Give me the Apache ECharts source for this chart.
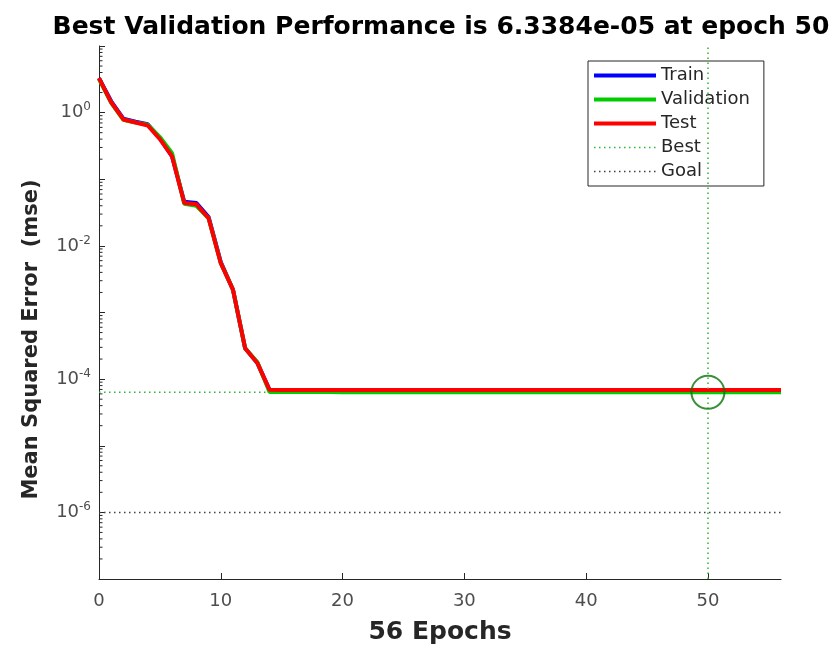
<!DOCTYPE html>
<html>
<head>
<meta charset="utf-8">
<script src="https://cdn.jsdelivr.net/npm/echarts@6/dist/echarts.min.js"></script>
<style>html,body{margin:0;padding:0;background:#fff}#c{width:836px;height:650px}</style>
</head>
<body>
<div id="c"></div>
<script>
var epochs = [0,1,2,3,4,5,6,7,8,9,10,11,12,13,14,15,16,17,18,19,20,21,22,23,24,25,26,27,28,29,30,31,32,33,34,35,36,37,38,39,40,41,42,43,44,45,46,47,48,49,50,51,52,53,54,55,56];
var trainPerf = [3.3,1.48,0.81,0.73,0.67,0.41,0.22,0.046,0.044,0.027,0.0057,0.0022,0.00029,0.000175,0.000069,0.0000688,0.0000688,0.0000687,0.0000687,0.0000687,0.0000686,0.0000686,0.0000686,0.0000686,0.0000685,0.0000685,0.0000685,0.0000685,0.0000685,0.0000684,0.0000684,0.0000684,0.0000684,0.0000684,0.0000684,0.0000683,0.0000683,0.0000683,0.0000683,0.0000683,0.0000683,0.0000683,0.0000682,0.0000682,0.0000682,0.0000682,0.0000682,0.0000682,0.0000682,0.0000682,0.0000682,0.0000682,0.0000682,0.0000682,0.0000682,0.0000682,0.0000682];
var valPerf = [3.2,1.4,0.78,0.71,0.66,0.43,0.245,0.043,0.040,0.026,0.0055,0.0022,0.00029,0.00018,0.0000642,0.0000641,0.000064,0.000064,0.0000639,0.0000639,0.0000638,0.0000638,0.0000638,0.0000637,0.0000637,0.0000637,0.0000636,0.0000636,0.0000636,0.0000636,0.0000635,0.0000635,0.0000635,0.0000635,0.0000635,0.0000635,0.0000634,0.0000634,0.0000634,0.0000634,0.0000634,0.0000634,0.0000634,0.0000634,0.0000634,0.0000634,0.0000634,0.0000634,0.0000634,0.0000634,0.000063384,0.0000634,0.0000634,0.0000634,0.0000634,0.0000634,0.0000634];
var testPerf = [3.3,1.43,0.79,0.71,0.64,0.40,0.22,0.044,0.042,0.026,0.0055,0.0022,0.00029,0.000175,0.000069,0.0000689,0.0000689,0.0000688,0.0000688,0.0000688,0.0000688,0.0000688,0.0000687,0.0000687,0.0000687,0.0000687,0.0000687,0.0000687,0.0000687,0.0000686,0.0000686,0.0000686,0.0000686,0.0000686,0.0000686,0.0000686,0.0000686,0.0000686,0.0000686,0.0000686,0.0000686,0.0000686,0.0000686,0.0000686,0.0000686,0.0000686,0.0000686,0.0000686,0.0000686,0.0000686,0.0000686,0.0000686,0.0000686,0.0000686,0.0000686,0.0000686,0.0000686];
var bestEpoch = 50;
var bestPerf = 6.3384e-05;
var goalPerf = 1e-06;
var xTicks = [0,10,20,30,40,50];
var yDecades = [-7,-6,-5,-4,-3,-2,-1,0];
var minorMultipliers = [2,3,4,5,6,7,8,9];
var titleText = 'Best Validation Performance is 6.3384e-05 at epoch 50';

function zip(xs, ys){ var out=[]; for (var i=0;i<xs.length;i++) out.push([xs[i], ys[i]]); return out; }
var minorTickValues = [];
yDecades.forEach(function(d){ minorMultipliers.forEach(function(m){ minorTickValues.push([0, m*Math.pow(10,d)]); }); });

var chart = echarts.init(document.getElementById('c'));
var dark = '#262626';
var font = 'DejaVu Sans';
chart.setOption({
  animation: false,
  backgroundColor: '#fff',
  title: {
    text: titleText, left: 436, top: 10, textAlign: 'center',
    textStyle: {fontFamily: font, fontSize: 25, fontWeight: 'bold', color: '#000'}
  },
  grid: {left: 99, right: 55, top: 46, bottom: 70, containLabel: false},
  legend: {
    orient: 'vertical', left: 588, top: 61,
    data: ['Train','Validation','Test','Best','Goal'],
    itemWidth: 62, itemHeight: 14, itemGap: 3,
    padding: [4, 14, 4, 4],
    borderColor: dark, borderWidth: 1, backgroundColor: '#fff',
    itemStyle: {opacity: 0, borderWidth: 0},
    lineStyle: {width: 'inherit'},
    textStyle: {fontFamily: font, fontSize: 18, color: dark, lineHeight: 21}
  },
  xAxis: {
    type: 'value', min: 0, max: 56, interval: 10,
    name: '56 Epochs', nameLocation: 'middle', nameGap: 41,
    nameTextStyle: {fontFamily: font, fontSize: 25, fontWeight: 'bold', color: dark},
    axisLine: {show: true, lineStyle: {color: dark, width: 1}},
    axisTick: {show: true, inside: true, length: 6, lineStyle: {color: dark}},
    axisLabel: {fontFamily: font, fontSize: 18, color: '#4d4d4d', margin: 13, showMaxLabel: false,
      formatter: function(v){ return xTicks.indexOf(v) >= 0 ? String(v) : ''; }},
    splitLine: {show: false}
  },
  yAxis: {
    type: 'log', logBase: 10, min: 1e-7, max: 10, interval: 1,
    name: 'Mean Squared Error  (mse)', nameLocation: 'middle', nameGap: 57,
    nameTextStyle: {fontFamily: font, fontSize: 21, fontWeight: 'bold', color: dark, padding: [0, 54, 0, 0]},
    axisLine: {show: true, lineStyle: {color: dark, width: 1}},
    axisTick: {show: true, inside: true, length: 6, lineStyle: {color: dark}},
    axisLabel: {
      margin: 8,
      formatter: function(v){
        var e = Math.round(Math.log10(v));
        if (e % 2 !== 0 || e > 0) return '';
        return '{b|10}{s|' + e + '}';
      },
      rich: {
        b: {fontFamily: font, fontSize: 18, color: '#4d4d4d'},
        s: {fontFamily: font, fontSize: 12, color: '#4d4d4d', padding: [0,0,11,0]}
      }
    },
    splitLine: {show: false}
  },
  series: [
    {
      name: 'minorTicks', type: 'custom', silent: true, clip: false,
      data: minorTickValues,
      renderItem: function(params, api){
        var p = api.coord([api.value(0), api.value(1)]);
        return {type: 'line', shape: {x1: p[0], y1: p[1], x2: p[0] + 3.5, y2: p[1]},
          style: {stroke: dark, lineWidth: 1}};
      }
    },
    {
      name: 'Best', type: 'line', symbol: 'none', silent: true,
      data: [[0, bestPerf], [56, bestPerf]],
      lineStyle: {color: '#33b233', width: 1.5, type: [1.5, 3.5]},
      itemStyle: {color: '#33b233'},
      markLine: {
        silent: true, symbol: 'none', label: {show: false},
        lineStyle: {color: '#33b233', width: 1.5, type: [1.5, 3.5]},
        data: [{xAxis: bestEpoch}]
      },
      z: 1
    },
    {
      name: 'Goal', type: 'line', symbol: 'none', silent: true,
      data: [[0, goalPerf], [56, goalPerf]],
      lineStyle: {color: '#404040', width: 1.5, type: [1.5, 3.5]},
      itemStyle: {color: '#404040'},
      z: 1
    },
    {
      name: 'Train', type: 'line', symbol: 'none', data: zip(epochs, trainPerf),
      lineStyle: {color: '#0000ff', width: 4}, itemStyle: {color: '#0000ff'}, z: 2
    },
    {
      name: 'Validation', type: 'line', symbol: 'none', data: zip(epochs, valPerf),
      lineStyle: {color: '#00cc00', width: 4}, itemStyle: {color: '#00cc00'}, z: 3
    },
    {
      name: 'Test', type: 'line', symbol: 'none', data: zip(epochs, testPerf),
      lineStyle: {color: '#ff0000', width: 4}, itemStyle: {color: '#ff0000'}, z: 4
    },
    {
      name: 'BestCircle', type: 'scatter', symbol: 'circle', symbolSize: 33,
      data: [[bestEpoch, bestPerf]], silent: true,
      itemStyle: {color: 'rgba(0,0,0,0)', borderColor: '#0a730a', borderWidth: 2}, z: 5
    }
  ]
});
</script>
</body>
</html>
